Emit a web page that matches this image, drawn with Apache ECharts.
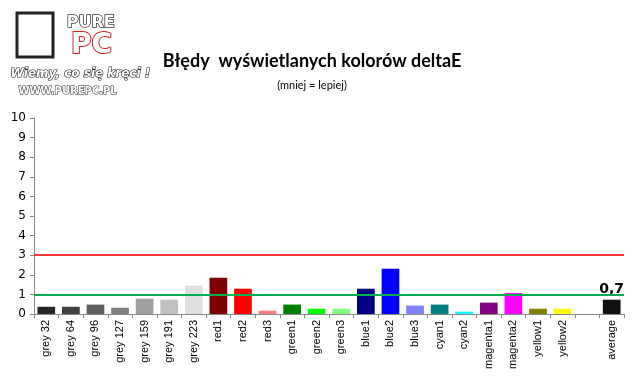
<!DOCTYPE html>
<html><head><meta charset="utf-8">
<script src="https://cdn.jsdelivr.net/npm/echarts@6/dist/echarts.min.js"></script>
<style>html,body{margin:0;padding:0;background:#fff}#c{width:639px;height:379px}</style>
</head><body><div id="c"></div>
<script>
const categories = ['grey 32','grey 64','grey 96','grey 127','grey 159','grey 191','grey 223','red1','red2','red3','green1','green2','green3','blue1','blue2','blue3','cyan1','cyan2','magenta1','magenta2','yellow1','yellow2','','average'];
const values = [0.37,0.37,0.48,0.32,0.78,0.73,1.45,1.85,1.29,0.17,0.48,0.27,0.27,1.29,2.31,0.43,0.48,0.12,0.58,1.07,0.27,0.27,null,0.73];
const barColors = ['#262626','#404040','#606060','#808080','#a0a0a0','#c0c0c0','#dedede','#800000','#ff0000','#ff8080','#008000','#00ff00','#80ff80','#000080','#0000ff','#8080ff','#008080','#00ffff','#800080','#ff00ff','#808000','#ffff00','#ffffff','#111111'];
const thresholdRed = 3;
const thresholdGreen = 1;
const yTicks = [0,1,2,3,4,5,6,7,8,9,10];
const averageLabel = '0,7';

const chart = echarts.init(document.getElementById('c'), null, {renderer:'canvas'});
chart.setOption({
  animation:false,
  backgroundColor:'#fff',
  title:[
    {text:'Błędy  wyświetlanych kolorów deltaE', left:307, top:47, textAlign:'center', textStyle:{fontFamily:'Lato', fontWeight:'bold', fontSize:18, color:'#000'}},
    {text:'(mniej = lepiej)', left:307, top:75, textAlign:'center', textStyle:{fontFamily:'Lato', fontWeight:'normal', fontSize:11, color:'#000'}}
  ],
  graphic:[
    {type:'rect', shape:{x:17,y:13,width:36,height:44}, style:{fill:'#fff', stroke:'#222', lineWidth:3}},
    {type:'text', left:66, top:14, style:{text:'PURE', font:'bold 16px "DejaVu Sans"', fill:'#fff', stroke:'#333', lineWidth:1.5}},
    {type:'text', left:70, top:31, style:{text:'PC', font:'bold 28px "DejaVu Sans"', fill:'#fff', stroke:'#cc2222', lineWidth:2}},
    {type:'text', left:10, top:67, style:{text:'Wiemy, co się kręci !', font:'italic bold 12px "DejaVu Sans"', fill:'#fff', stroke:'#222', lineWidth:1.2}},
    {type:'text', left:18, top:86, style:{text:'WWW.PUREPC.PL', font:'bold 10px "DejaVu Sans"', fill:'#fff', stroke:'#222', lineWidth:1}}
  ],
  grid:{left:34, right:15, top:118, bottom:65, containLabel:false},
  xAxis:{
    type:'category', data:categories,
    axisLine:{lineStyle:{color:'#888', width:1}},
    axisTick:{show:true, alignWithLabel:false, length:4, lineStyle:{color:'#888'}},
    axisLabel:{rotate:90, interval:0, fontFamily:'Liberation Sans', fontSize:11, color:'#000', margin:6}
  },
  yAxis:{
    type:'value', min:0, max:10, interval:1,
    axisLine:{show:true, lineStyle:{color:'#888'}},
    axisTick:{show:true, length:4, lineStyle:{color:'#888'}},
    splitLine:{show:false},
    axisLabel:{fontFamily:'DejaVu Sans', fontSize:12, color:'#000', margin:8,
      formatter:v=>yTicks.includes(v)?String(v):''}
  },
  series:[{
    type:'bar', barCategoryGap:'28%',
    data:values.map((v,i)=>({value:v, itemStyle:{color:barColors[i]},
      label: i===categories.length-1 ? {show:true, position:'top', formatter:averageLabel, fontFamily:'DejaVu Sans', fontWeight:'bold', fontSize:14, color:'#000', distance:3} : {show:false}})),
    markLine:{
      silent:true, symbol:'none', label:{show:false},
      data:[
        {yAxis:thresholdRed, lineStyle:{color:'#ff3333', width:2, type:'solid'}},
        {yAxis:thresholdGreen, lineStyle:{color:'#00b050', width:2, type:'solid'}}
      ]
    }
  }]
});
</script></body></html>
